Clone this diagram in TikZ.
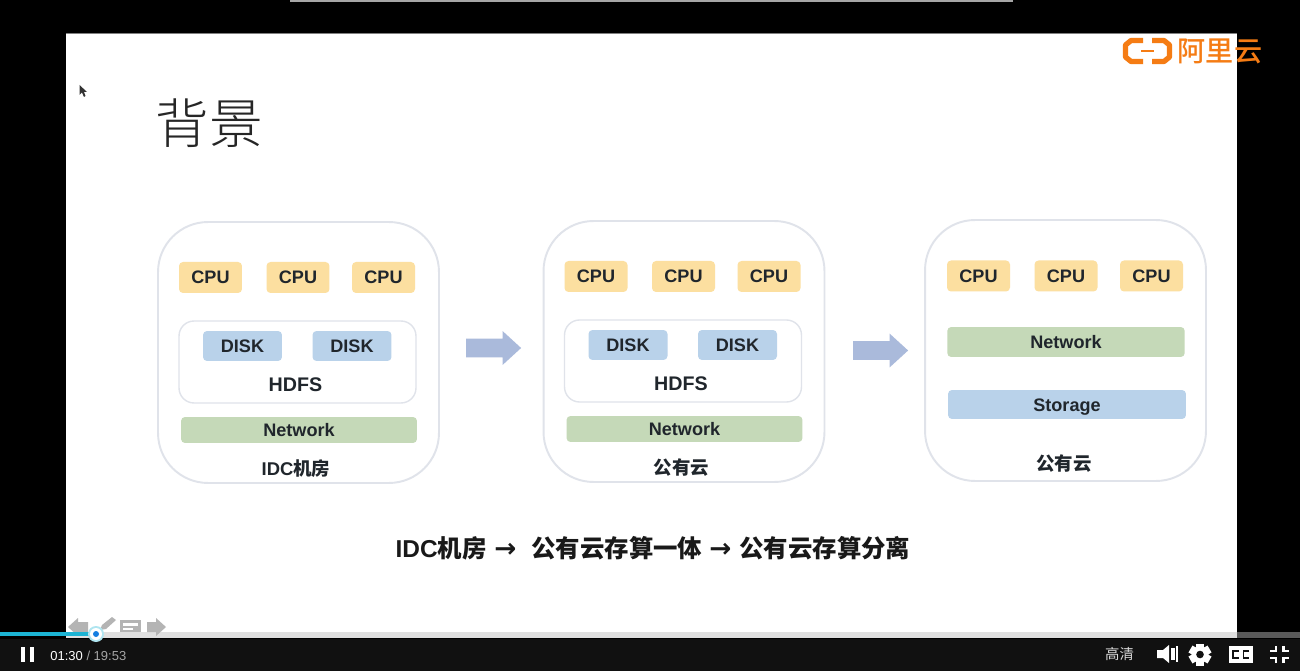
\documentclass[tikz,border=0pt]{standalone}
\usepackage{fontspec}
\setmainfont{Liberation Sans}
\newfontfamily\cjk{Noto Sans CJK SC}
\newfontfamily\cjklight{Noto Sans CJK SC Light}
\newfontfamily\cjkmedium{Noto Sans CJK SC Medium}
\newfontfamily\arrowfont{DejaVu Sans}
\usetikzlibrary{shapes.arrows}

\definecolor{cpuyellow}{HTML}{FCDFA0}
\definecolor{diskblue}{HTML}{B9D2EA}
\definecolor{netgreen}{HTML}{C5D9B8}
\definecolor{panelgrey}{HTML}{E0E3EA}
\definecolor{flowblue}{HTML}{AABADB}
\definecolor{inkdark}{HTML}{20262C}
\definecolor{logoorange}{HTML}{F57C14}
\definecolor{toolgrey}{HTML}{B4B4B4}
\definecolor{barblack}{HTML}{111111}
\definecolor{seekcyan}{HTML}{1CB4D4}

\tikzset{
    panelbox/.style={draw=panelgrey, line width=1.1pt, fill=white, rounded corners=1cm,
        minimum width=5.62cm, minimum height=5.22cm, inner sep=0pt},
    tagbox/.style={rounded corners=0.08cm, inner sep=0pt, text=inkdark, text height=7.4pt, text depth=0pt,
        font=\fontsize{10.3}{12}\selectfont\bfseries},
    cpubox/.style={tagbox, fill=cpuyellow, minimum width=1.26cm, minimum height=0.62cm},
    diskbox/.style={tagbox, fill=diskblue, minimum width=1.58cm, minimum height=0.6cm},
    hdfsbox/.style={draw=panelgrey, line width=0.8pt, fill=white, rounded corners=0.3cm,
        minimum width=4.74cm, minimum height=1.64cm, inner sep=0pt},
    flowarrow/.style={single arrow, fill=flowblue, inner xsep=0pt, inner ysep=0.18cm, minimum height=1.1cm,
        minimum width=0.66cm, single arrow head extend=0.15cm,
        single arrow tip angle=85, single arrow head indent=0pt},
    plainlabel/.style={inner sep=0pt, text=inkdark, font=\fontsize{10.5}{12}\selectfont\bfseries},
    toolshape/.style={fill=toolgrey, draw=none},
    iconwhite/.style={fill=white, draw=none},
}

\begin{document}
\begin{tikzpicture}[x=0.02cm, y=-0.02cm]

    % Riga di tre CPU: #1 nome, #2 x della prima, #3 y
    \def\cpurow#1#2#3{%
        \node[cpubox] (#1a) at (#2, #3) {CPU};%
        \node[cpubox] (#1b) at (#2+87.5, #3) {CPU};%
        \node[cpubox] (#1c) at (#2+173, #3) {CPU};%
    }

    % Pannello con HDFS: #1 nome, #2 dx, #3 dy, #4 etichetta
    \def\hdfspanel#1#2#3#4{%
        \node[panelbox] (#1) at (298.5+#2, 352.5+#3) {};%
        \cpurow{#1cpu}{210.5+#2}{277.5+#3}
        \node[hdfsbox] (#1hdfs) at (297.5+#2, 362+#3) {};%
        \node[diskbox] (#1diska) at (242.5+#2, 346+#3) {DISK};%
        \node[diskbox] (#1diskb) at (352+#2, 346+#3) {DISK};%
        \node[plainlabel, font=\fontsize{11.2}{13}\selectfont\bfseries] (#1name) at (295.5+#2, 385+#3) {HDFS};%
        \node[tagbox, fill=netgreen, minimum width=4.72cm, minimum height=0.52cm] (#1net) at (299+#2, 430+#3) {Network};%
        \node[plainlabel] (#1label) at (296+#2, 468.5+#3) {#4};%
    }

    % -- Sfondo, lettore e diapositiva --
    \fill[black] (0, 0) rectangle (1300, 671);
    \useasboundingbox (0, 0) rectangle (1300, 671);
    \fill[gray!70] (290, 0) rectangle (1013, 2);
    \fill[white] (66, 34) rectangle (1237, 632);
    \draw[gray, line width=0.4pt] (66, 33.6) -- (1237, 33.6);
    \fill[gray!25] (66, 632) rectangle (1237, 638);
    \fill[gray!70!black] (1237, 632) rectangle (1300, 638);
    \fill[barblack] (0, 638.5) rectangle (1300, 671);

    % -- Titolo e logo --
    \node[inner sep=0pt, text=black!85, font=\cjklight\fontsize{30.5}{33}\selectfont] (title) at (209, 123) {背景};
    \draw[logoorange, line width=3pt, line join=round]
        (1143, 40.5) -- (1131, 40.5) -- (1125.5, 45) -- (1125.5, 57) -- (1131, 61.5) -- (1143, 61.5);
    \draw[logoorange, line width=3pt, line join=round]
        (1152, 40.5) -- (1164, 40.5) -- (1169.5, 45) -- (1169.5, 57) -- (1164, 61.5) -- (1152, 61.5);
    \fill[logoorange] (1141, 49.8) rectangle (1154, 52);
    \node[inner sep=0pt, text=logoorange, font=\cjkmedium\fontsize{16}{18}\selectfont] (logotext) at (1220, 51) {阿里云};

    % -- Puntatore del mouse --
    \fill[black!80] (79.5, 85) -- (79.5, 95) -- (82, 92.5) -- (84, 97) -- (85.5, 96) -- (84, 92) -- (87, 92) -- cycle;

    % -- I tre pannelli --
    \hdfspanel{idc}{0}{0}{IDC{\cjk 机房}}
    \hdfspanel{pub}{385.5}{-1}{{\cjk 公有云}}

    \node[panelbox] (split) at (1065.5, 350.5) {};
    \cpurow{splitcpu}{978.5}{276}
    \node[tagbox, fill=netgreen, minimum width=4.75cm, minimum height=0.6cm] (splitnet) at (1066, 342) {Network};
    \node[tagbox, fill=diskblue, minimum width=4.76cm, minimum height=0.58cm] (splitstore) at (1067, 404.5) {Storage};
    \node[plainlabel] (splitlabel) at (1064, 464) {\cjk 公有云};

    % Frecce tra i pannelli
    \node[flowarrow] (flowa) at (488.5, 348) {};
    \node[flowarrow] (flowb) at (875.5, 350.5) {};

    % -- Didascalia --
    \def\capsep{{\arrowfont\fontsize{15}{16}\selectfont →}}
    \node[inner sep=0pt, text=black!90, font=\fontsize{13.9}{16}\selectfont\bfseries] (caption) at (653, 548)
        {IDC{\cjk 机房}\hspace{4.5pt}\capsep\hspace{8.5pt}{\cjk 公有云存算一体}\hspace{4pt}\capsep\hspace{4.5pt}{\cjk 公有云存算分离}};

    % -- Barra degli strumenti della diapositiva --
    \fill[toolshape] (68, 627) -- (78, 618) -- (78, 622) -- (88, 622) -- (88, 632) -- (78, 632) -- (78, 636) -- cycle;
    \fill[toolshape] (100, 630) -- (102, 625) -- (112, 617) -- (116, 620) -- (106, 629) -- cycle;
    \fill[toolshape] (120, 620) rectangle (141, 632);
    \fill[white] (123, 623) rectangle (138, 626);
    \fill[white] (123, 628) rectangle (133, 630);
    \fill[toolshape] (166, 627) -- (156, 618) -- (156, 622) -- (147, 622) -- (147, 632) -- (156, 632) -- (156, 636) -- cycle;

    % -- Avanzamento --
    \fill[seekcyan] (0, 632) rectangle (96, 635.5);
    \fill[seekcyan!35] (96, 634) circle (8);
    \fill[white] (96, 634) circle (6);
    \fill[seekcyan!70!blue] (96, 634) circle (3);

    % -- Comandi del lettore --
    \fill[white] (21, 647) rectangle (25, 662);
    \fill[white] (30, 647) rectangle (34, 662);
    \node[anchor=west, inner sep=0pt, text=white, font=\fontsize{7.4}{9}\selectfont] (elapsed) at (50, 655.5)
        {01:30 \textcolor{gray!70}{/ 19:53}};
    \node[inner sep=0pt, text=white!85!black, font=\cjk\fontsize{8.2}{10}\selectfont] (quality) at (1119.5, 653.5) {高清};

    % altoparlante
    \fill[iconwhite] (1157, 650) -- (1163, 650) -- (1169, 645) -- (1169, 663) -- (1163, 658) -- (1157, 658) -- cycle;
    \fill[iconwhite] (1171, 648) rectangle (1174.5, 660);
    \fill[iconwhite] (1176, 646) rectangle (1178, 662);

    % ingranaggio
    \foreach \a in {0, 60, ..., 300}
        \fill[iconwhite, rotate around={\a:(1200, 654.5)}] (1196, 643.5) rectangle (1204, 650);
    \fill[iconwhite] (1200, 654.5) circle (8.5);
    \fill[barblack] (1200, 654.5) circle (3.8);

    % sottotitoli
    \fill[iconwhite] (1229, 646) rectangle (1253, 663);
    \draw[barblack, line width=1.1pt] (1238.5, 651) -- (1233, 651) -- (1233, 658) -- (1238.5, 658);
    \draw[barblack, line width=1.1pt] (1249, 651) -- (1243.5, 651) -- (1243.5, 658) -- (1249, 658);

    % esci da schermo intero
    \draw[white, line width=1.6pt] (1276, 646) -- (1276, 651) -- (1270, 651);
    \draw[white, line width=1.6pt] (1283.5, 646) -- (1283.5, 651) -- (1289, 651);
    \draw[white, line width=1.6pt] (1276, 663) -- (1276, 658) -- (1270, 658);
    \draw[white, line width=1.6pt] (1283.5, 663) -- (1283.5, 658) -- (1289, 658);

\end{tikzpicture}
\end{document}
